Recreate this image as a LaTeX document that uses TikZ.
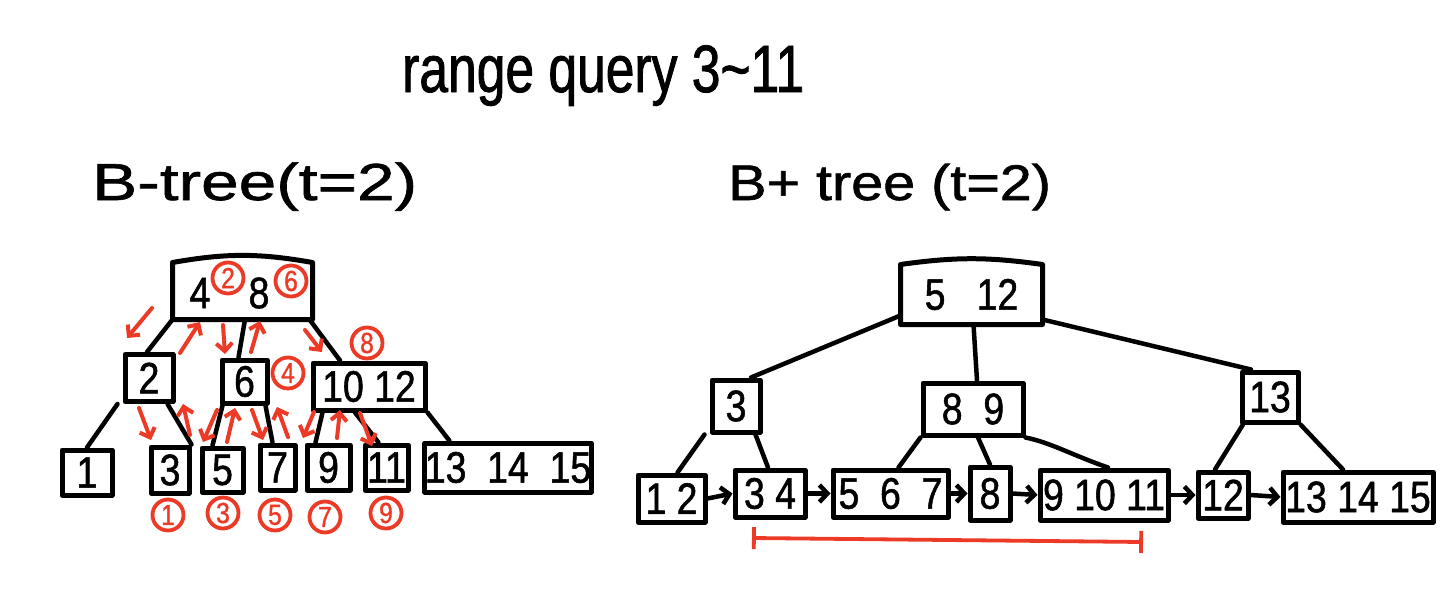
\documentclass[tikz,border=0pt]{standalone}
\usepackage{fontspec}
\setmainfont{Liberation Sans}
\newfontfamily\hand[FakeStretch=0.85,FakeBold=1.2]{Liberation Sans}
\newfontfamily\handt[FakeStretch=0.77,FakeBold=1.2]{Liberation Sans}
\newfontfamily\handw[FakeStretch=1.3,FakeBold=1.2]{Liberation Sans}
\newfontfamily\handv[FakeStretch=1.15,FakeBold=1.2]{Liberation Sans}
\usetikzlibrary{arrows.meta}
\definecolor{pen}{RGB}{236,58,38}
\begin{document}
\begin{tikzpicture}[x=1pt,y=-1pt,
  box/.style={draw, line width=5pt, rectangle, inner sep=0pt, line join=round,
    font=\hand\fontsize{44}{46}\selectfont},
  num/.style={inner sep=0pt, font=\hand\fontsize{44}{46}\selectfont},
  edge/.style={line width=4.5pt, line cap=round},
  larrow/.style={line width=4.5pt, line cap=round, -{Straight Barb[length=8pt,width=17pt]}},
  rarrow/.style={draw=pen, line width=4pt, line cap=round, -{Straight Barb[length=8pt,width=16pt]}},
  rc/.style={circle, draw=pen, line width=3.8pt, text=pen, minimum size=31pt, inner sep=0pt,
    font=\hand\fontsize{29}{29}\selectfont},
  lbl/.style={anchor=base west, inner sep=0pt}]
\useasboundingbox (0,0) rectangle (1454,605);

% titles
\node[lbl, font=\handt\fontsize{67}{70}\selectfont] (title) at (402,92) {range query 3\textasciitilde11};
\node[lbl, font=\handw\fontsize{52}{56}\selectfont] (lblB) at (92,200) {B-tree(t=2)};
\node[lbl, font=\handv\fontsize{50}{54}\selectfont] (lblP) at (728,200) {B+ tree (t=2)};

% ---------------- B-tree ----------------
\node[box, draw=none, minimum width=135pt, minimum height=52pt] (broot) at (242.5,291) {};
\draw[line width=5pt, line join=round] (broot.south west) -- (broot.north west)
  to[bend left=10] (broot.north east) -- (broot.south east) -- cycle;
\node[num] (b4) at (200,293) {4};
\node[num] (b8) at (259,293) {8};

\node[box, minimum width=48pt, minimum height=47pt] (b2) at (149,378) {2};
\node[box, minimum width=45pt, minimum height=43pt] (b6) at (244.5,381.5) {6};
\node[box, minimum width=112pt, minimum height=47pt] (b1012) at (369,386.5) {10 12};

\node[box, minimum width=50pt, minimum height=45pt] (l1) at (87,472.5) {1};
\node[box, minimum width=38pt, minimum height=46pt] (l3) at (170,470) {3};
\node[box, minimum width=41pt, minimum height=44pt] (l5) at (222.5,470) {5};
\node[box, minimum width=35pt, minimum height=45pt] (l7) at (277.5,467.5) {7};
\node[box, minimum width=43pt, minimum height=45pt] (l9) at (328.5,467.5) {9};
\node[box, minimum width=43pt, minimum height=45pt] (l11) at (386.5,467.5) {11};
\node[box, minimum width=160pt, minimum height=49pt] (l131415) at (508,467.5) {13\ \ 14\ \ 15};

\draw[edge] (broot.south west) -- ([xshift=-2pt]b2.north);
\draw[edge] ([xshift=2.5pt]broot.south) -- ([xshift=-6pt]b6.north);
\draw[edge] ([xshift=-3pt]broot.south east) -- ([xshift=-29pt]b1012.north);
\draw[edge] ([xshift=-5pt]b2.south west) -- (l1.north);
\draw[edge] ([xshift=-8pt]b2.south east) -- (l3.north east);
\draw[edge] ([xshift=3pt]b6.south west) -- ([xshift=-10pt]l5.north);
\draw[edge] ([xshift=-4pt]b6.south east) -- ([xshift=-5pt]l7.north);
\draw[edge] ([xshift=12pt]b1012.south west) -- ([xshift=-13pt]l9.north);
\draw[edge] ([xshift=-14pt]b1012.south) -- ([xshift=-8pt]l11.north);
\draw[edge] (b1012.south east) -- ([xshift=27pt]l131415.north west);

% red traversal arrows
\draw[rarrow] (152,308) -- (127,338);
\draw[rarrow] (139,408) -- (151,440);
\draw[rarrow] (190,435) -- (183,404);
\draw[rarrow] (180,353) -- (200,322);
\draw[rarrow] (223,325) -- (225,354);
\draw[rarrow] (217,410) -- (203,442);
\draw[rarrow] (227,442) -- (235,408);
\draw[rarrow] (251,352) -- (260,321);
\draw[rarrow] (252,410) -- (263,440);
\draw[rarrow] (288,437) -- (277,407);
\draw[rarrow] (305,330) -- (322,352);
\draw[rarrow] (314,412) -- (303,438);
\draw[rarrow] (337,438) -- (340,410);
\draw[rarrow] (360,413) -- (372,446);

% red circled order numbers
\node[rc] (c2) at (228,278) {2};
\node[rc] (c6) at (291,281) {6};
\node[rc] (c4) at (288,373) {4};
\node[rc] (c8) at (367,343) {8};
\node[rc] (c1) at (168,515) {1};
\node[rc] (c3) at (223,513) {3};
\node[rc] (c5) at (275,515) {5};
\node[rc] (c7) at (325,517) {7};
\node[rc] (c9) at (386,513) {9};

% ---------------- B+ tree ----------------
\node[box, draw=none, minimum width=137pt, minimum height=55pt] (proot) at (971.5,294.5) {5\ \ \ 12};
\draw[line width=5pt, line join=round] (proot.south west) -- (proot.north west)
  to[bend left=8] (proot.north east) -- (proot.south east) -- cycle;

\node[box, minimum width=48pt, minimum height=52pt] (p3) at (736,406) {3};
\node[box, minimum width=100pt, minimum height=52pt] (p89) at (973,409) {8\ \ 9};
\node[box, minimum width=56pt, minimum height=50pt] (p13) at (1270,397) {13};

\node[box, minimum width=67pt, minimum height=47pt] (q12) at (671.5,498.5) {1 2};
\node[box, minimum width=70pt, minimum height=47pt] (q34) at (770,493.5) {3 4};
\node[box, minimum width=115pt, minimum height=47pt] (q567) at (890.5,493.5) {5\ \ 6\ \ 7};
\node[box, minimum width=40pt, minimum height=53pt] (q8) at (990,493.5) {8};
\node[box, minimum width=128pt, minimum height=50pt] (q91011) at (1104,495) {9 10 11};
\node[box, minimum width=50pt, minimum height=46pt] (q12b) at (1223,495) {12};
\node[box, minimum width=150pt, minimum height=50pt] (q131415) at (1358,497) {13\ 14\ 15};

\draw[edge] ([yshift=9pt]proot.south west) -- ([xshift=15pt]p3.north);
\draw[edge] ([xshift=2pt]proot.south) -- ([xshift=4pt]p89.north);
\draw[edge] ([yshift=5pt]proot.south east) -- ([xshift=-19pt]p13.north);
\draw[edge] ([xshift=-5pt]p3.south west) -- ([xshift=6pt]q12.north);
\draw[edge] ([xshift=-7pt]p3.south east) -- ([xshift=-2pt]q34.north);
\draw[edge] (p89.south west) -- ([xshift=8pt]q567.north);
\draw[edge] ([xshift=5pt]p89.south) -- (q8.north);
\draw[edge] (p89.south east) .. controls +(25,5) and +(-35,-12) .. ([xshift=4pt]q91011.north);
\draw[edge] ([xshift=-27pt]p13.south) -- ([xshift=-8pt]q12b.north);
\draw[edge] (p13.south east) -- ([xshift=-15pt]q131415.north);

\draw[larrow] (q12.east) -- (q34.west);
\draw[larrow] (q34.east) -- (q567.west);
\draw[larrow] (q567.east) -- (q8.west);
\draw[larrow] (q8.east) -- (q91011.west);
\draw[larrow] (q91011.east) -- (q12b.west);
\draw[larrow] (q12b.east) -- (q131415.west);

% red range bar
\coordinate (rs) at (752,538);
\coordinate (re) at (1143,542);
\draw[draw=pen, line width=3.8pt, {Bar[width=22pt]}-{Bar[width=22pt]}] (rs) -- (re);
\end{tikzpicture}
\end{document}
